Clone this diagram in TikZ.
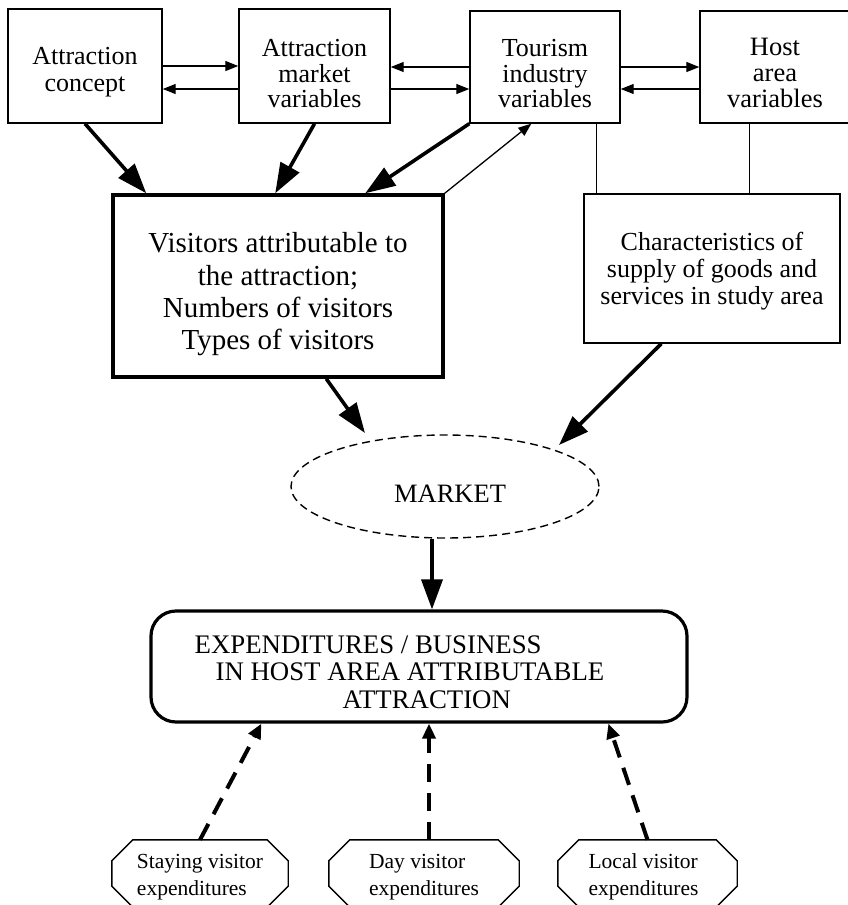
\documentclass[tikz,border=0pt]{standalone}
\usepackage{fontspec}
\setmainfont{Liberation Serif}
\usetikzlibrary{arrows.meta,shapes.geometric}
\newcommand\liftline[1]{\rule{0pt}{#1}}
\newcommand\octdraw[1]{%
  \draw[line width=1.4pt] ([xshift=21pt]#1.north west) -- ([xshift=-21pt]#1.north east)
    -- ([yshift=-21pt]#1.north east) -- ([yshift=21pt]#1.south east)
    -- ([xshift=-21pt]#1.south east) -- ([xshift=21pt]#1.south west)
    -- ([yshift=21pt]#1.south west) -- ([yshift=-21pt]#1.north west) -- cycle;}
\tikzset{
  topbox/.style={draw, line width=1.4pt, align=center, inner sep=0pt},
  visbox/.style={draw, line width=3.5pt, align=center, inner sep=0pt,
    font=\fontsize{29}{32.3}\selectfont},
  charbox/.style={draw, line width=1.4pt, align=center, inner sep=0pt,
    font=\fontsize{26}{27}\selectfont},
  mktnode/.style={draw, ellipse, line width=1.4pt, dash pattern=on 8pt off 5pt,
    inner sep=0pt, font=\fontsize{26.5}{27}\selectfont},
  expbox/.style={draw, line width=3.2pt, rounded corners=25pt, align=left,
    inner sep=0pt, font=\fontsize{26.8}{27.5}\selectfont},
  octbox/.style={rectangle, align=left, inner sep=0pt,
    minimum height=67pt, font=\fontsize{21.5}{27}\selectfont},
  thinarr/.style={line width=1.3pt, -{Triangle[length=13pt,width=10pt]}},
  thickarr/.style={line width=3.6pt, -{Triangle[length=30pt,width=21pt]}},
  dasharr/.style={line width=4pt, dash pattern=on 18pt off 11pt,
    -{Triangle[length=15pt,width=13pt]}},
  plainline/.style={line width=1.3pt}
}
\begin{document}
\begin{tikzpicture}[x=1pt,y=-1pt]
\useasboundingbox (0,0) rectangle (847,905);

% top row
\node[topbox, minimum width=154pt, minimum height=114pt,
  font=\fontsize{26}{27}\selectfont] (ac) at (85,66)
  {\liftline{30pt}Attraction\\concept};
\node[topbox, minimum width=151pt, minimum height=114pt,
  font=\fontsize{26}{25.5}\selectfont] (am) at (314.5,66)
  {\liftline{33pt}Attraction\\market\\variables};
\node[topbox, minimum width=150pt, minimum height=112pt,
  font=\fontsize{26}{25.5}\selectfont] (tm) at (545,67)
  {\liftline{31pt}Tourism\\industry\\variables};
\node[topbox, minimum width=150pt, minimum height=112pt,
  font=\fontsize{26.5}{26}\selectfont] (hv) at (775,67)
  {\liftline{30pt}Host\\area\\variables};

% middle boxes
\node[visbox, minimum width=330pt, minimum height=182pt] (vis) at (278,286)
  {\liftline{37pt}Visitors attributable to\\the attraction;\\Numbers of visitors\\Types of visitors};
\node[charbox, minimum width=256pt, minimum height=149pt] (ch) at (712,268.5)
  {\liftline{23pt}Characteristics of\\supply of goods and\\services in study area};

% market
\node[mktnode, minimum width=308pt, minimum height=103pt] (mk) at (445,486.5)
  {\liftline{32pt}\hspace*{10pt}MARKET};

% expenditures
\node[expbox, minimum width=536pt, minimum height=111pt] (ex) at (419,666.5)
  {\liftline{29pt}EXPENDITURES / BUSINESS\\
   \hspace*{21pt}IN HOST AREA ATTRIBUTABLE\hspace*{39pt}\mbox{}\\
   \hspace*{148pt}ATTRACTION};

% bottom octagons
\node[octbox, minimum width=176pt] (st) at (200,873.5)
  {\liftline{21pt}Staying visitor\\expenditures};
\node[octbox, minimum width=190pt] (dy) at (424,873.5)
  {\liftline{21pt}Day visitor\\expenditures};
\node[octbox, minimum width=179pt] (lc) at (647.5,873.5)
  {\liftline{21pt}\hspace*{-8pt}Local visitor\\\hspace*{-8pt}expenditures};
\octdraw{st}
\octdraw{dy}
\octdraw{lc}

% horizontal arrows between top boxes
\draw[thinarr] (ac.east) -- (ac.east -| am.west);
\draw[thinarr] ([yshift=-23pt]am.west) -- ([yshift=-23pt]am.west -| ac.east);
\draw[thinarr] (tm.west) -- (tm.west -| am.east);
\draw[thinarr] ([yshift=-22pt]am.east |- tm.west) -- ([yshift=-22pt]tm.west);
\draw[thinarr] (tm.east) -- (tm.east -| hv.west);
\draw[thinarr] ([yshift=-22pt]hv.west) -- ([yshift=-22pt]hv.west -| tm.east);

% thick arrows into visitors box
\draw[thickarr] (ac.south) -- ([xshift=35pt]vis.north west);
\draw[thickarr] (am.south) -- ([xshift=164pt]vis.north west);
\draw[thickarr] (tm.south west) -- ([xshift=254pt]vis.north west);
\draw[thinarr] (vis.north east) -- ([xshift=62pt]tm.south west);

% plain connectors to characteristics box
\draw[plainline] ([xshift=127pt]tm.south west) -- ([xshift=127pt]tm.south west |- ch.north);
\draw[plainline] ([xshift=50pt]hv.south west) -- ([xshift=50pt]hv.south west |- ch.north);

% arrows into market
\coordinate (mkL) at (365,433);
\coordinate (mkR) at (559,445);
\draw[thickarr] ([xshift=215pt]vis.south west) -- (mkL);
\draw[thickarr] ([xshift=78pt]ch.south west) -- (mkR);

% market to expenditures
\draw[thickarr] ([xshift=-13pt]mk.south) -- ([xshift=-13pt]mk.south |- ex.north);

% dashed arrows from octagons
\draw[dasharr] (st.north) -- ([xshift=112pt]ex.south west);
\draw[dasharr] ([xshift=5pt]dy.north) -- ([xshift=5pt]dy.north |- ex.south);
\draw[dasharr] (lc.north) -- ([xshift=459pt]ex.south west);
\end{tikzpicture}
\end{document}
